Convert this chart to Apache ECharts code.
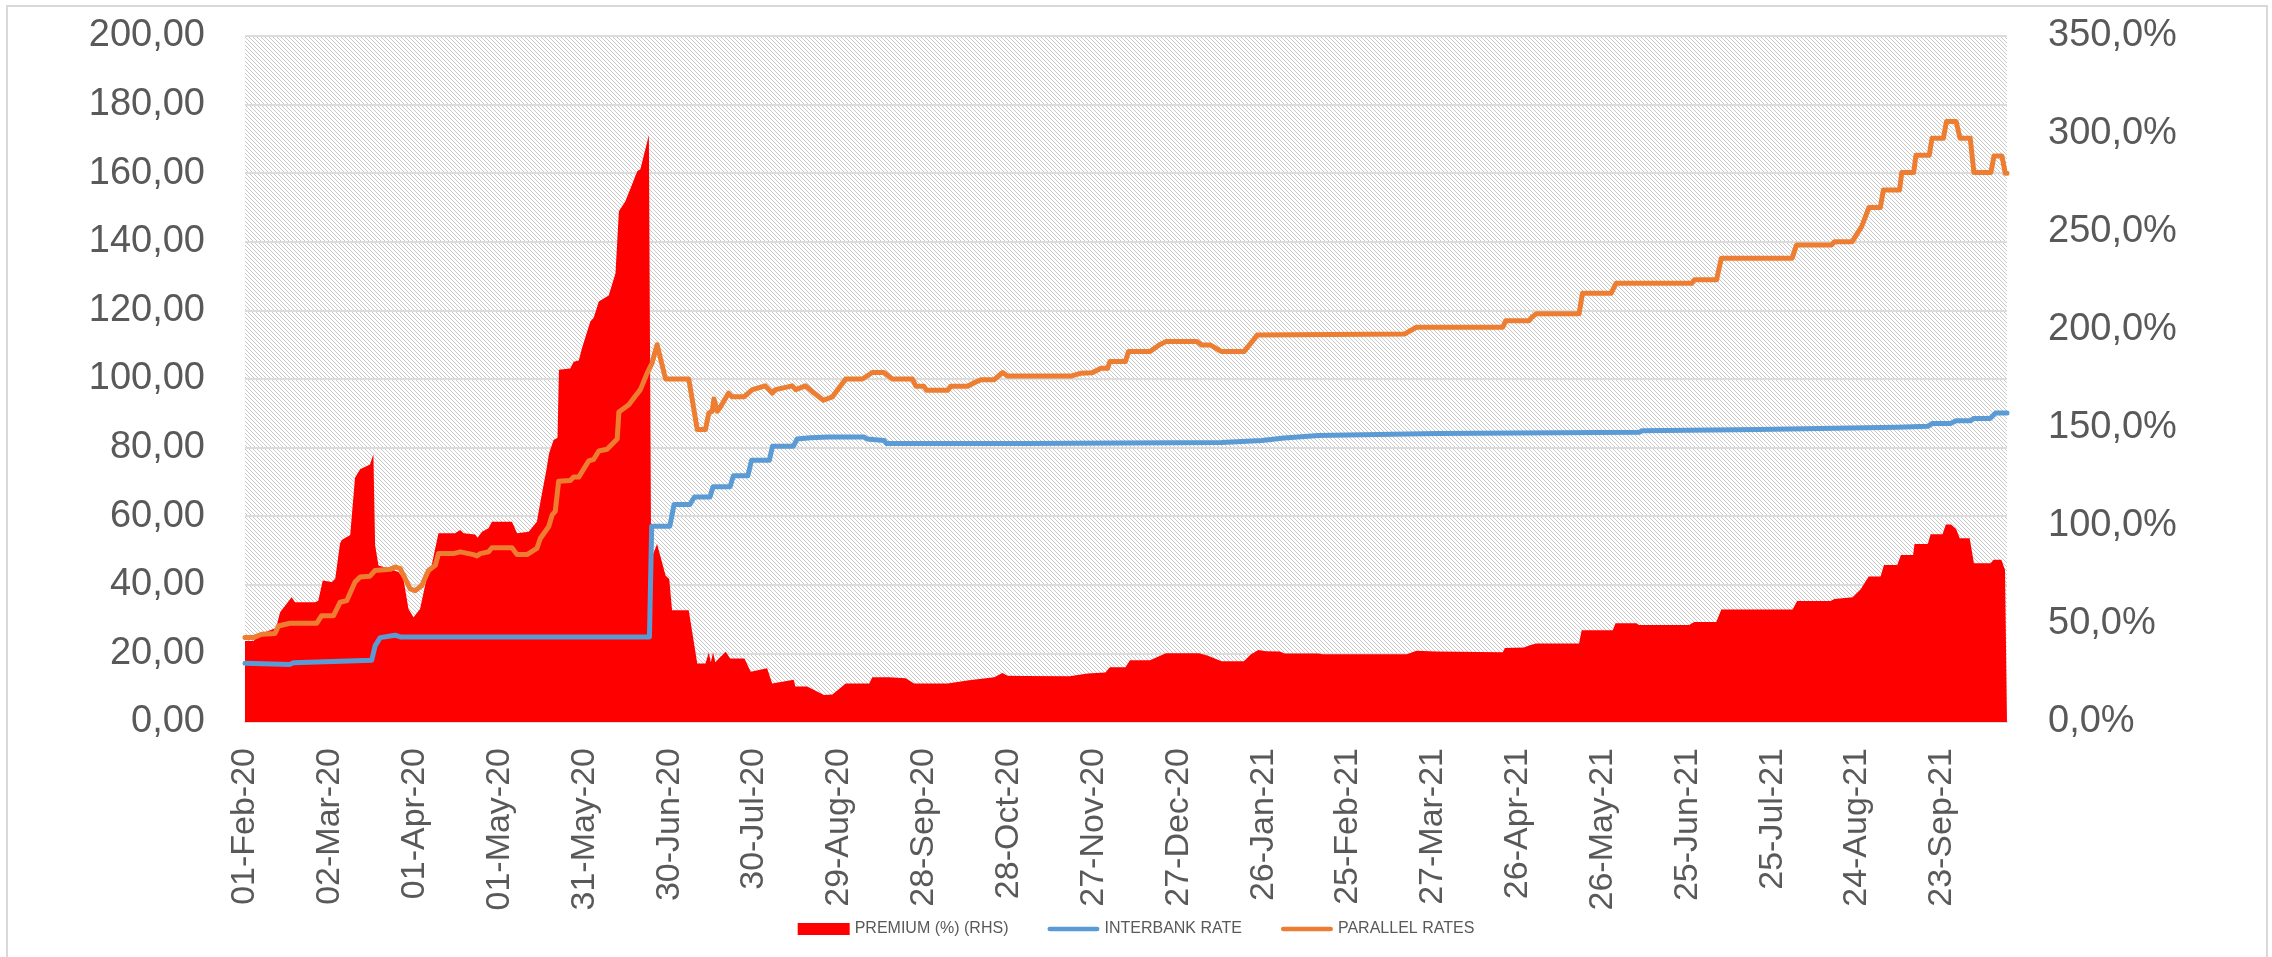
<!DOCTYPE html>
<html>
<head>
<meta charset="utf-8">
<script src="https://cdn.jsdelivr.net/npm/echarts@6/dist/echarts.min.js"></script>
<style>
  html, body { margin: 0; padding: 0; background: #ffffff; }
  #chart { width: 2272px; height: 957px; }
</style>
</head>
<body>
<div id="chart"></div>
<script>
// x values are days counted from 01-Feb-20 (day 0); a tick label every 30 days
const tickLabels = ['01-Feb-20','02-Mar-20','01-Apr-20','01-May-20','31-May-20','30-Jun-20','30-Jul-20',
  '29-Aug-20','28-Sep-20','28-Oct-20','27-Nov-20','27-Dec-20','26-Jan-21','25-Feb-21','27-Mar-21',
  '26-Apr-21','26-May-21','25-Jun-21','25-Jul-21','24-Aug-21','23-Sep-21'];
const lastDay = 623;

const seriesNames = ['PREMIUM (%) (RHS)', 'INTERBANK RATE', 'PARALLEL RATES'];

// PREMIUM (%) (RHS) : [day, percent]
const premium = [[0,41.3],[3,41.3],[5.3,44.8],[10,47.4],[11,47.9],[12.4,56],[16.5,63.7],[17.7,61.1],[24.8,61.1],
  [25.9,61.9],[27.5,72.2],[30.7,71.4],[31.9,73.1],[33.6,91.1],[34.2,92.8],[37.2,95.4],[38.9,124.6],[40.7,128.9],
  [44.2,131.4],[45.4,136.6],[46,90.3],[47.2,79.9],[50.2,78.6],[54.3,76.5],[56,73.1],[57.8,57.6],[59.6,53.4],
  [61.9,57.6],[64.3,73.9],[66,79.9],[68.4,96.3],[74.3,96.3],[76.1,98],[77.3,96.3],[81.4,95.7],[82.2,94],
  [83.8,97.1],[86.1,98.8],[87.3,102.2],[94.4,102.2],[96.2,96.3],[100.3,97.1],[103.2,102.2],[104.4,112],
  [106.5,128],[107.5,137],[109.1,143.9],[110.5,145],[111,179.7],[115,180.3],[116.2,183.8],[118,184.4],
  [119.2,191],[122.1,204.3],[123.3,206.3],[125.1,214.5],[128.6,217.6],[131,228.9],[132.2,260.6],[134.5,265.7],
  [138.7,281],[139.8,282],[142.8,299.5],[143.3,299.5],[143.6,83],[145.7,90.8],[148.7,74.7],[150,73],[151,57],
  [156.9,57],[159.9,29.9],[162.8,29.9],[164,35.5],[164.7,30.5],[165.5,35.5],[166.3,30.5],[168,33],[170,35.8],
  [171.5,32.4],[176.6,32.4],[178.8,25.7],[184.6,27.4],[186.4,19.7],[194,21.5],[194.6,18.1],[198.8,18.1],
  [204.7,13.8],[207.7,14],[212.4,19.7],[220.7,19.7],[221.8,22.8],[227.7,22.8],[233.6,22.3],[236.6,19.7],
  [248.4,19.7],[256,21.3],[264.9,22.8],[267.8,25],[269.6,23.6],[275.5,23.5],[291.6,23.4],[297.9,24.8],
  [304.2,25.2],[305.8,27.9],[311.3,27.9],[312.9,31.5],[320,31.5],[325.6,35.1],[337.4,35.1],[340.5,33.8],
  [345.3,31],[353.2,31],[355.6,34.5],[358.3,36.7],[361,36.1],[365.9,36],[367.6,35],[379.5,35],[381,34.6],
  [410.8,34.6],[414.2,36.4],[421,36],[444.7,35.6],[445.5,37.8],[452.2,38],[454,39],[456.5,40],[471.7,40],
  [472.6,46.8],[483.6,46.8],[484.6,50.4],[492,50.4],[492.9,49.5],[510.6,49.5],[512.4,51],[520.2,51],[522,57.4],
  [547.2,57.4],[548.8,61.7],[560.6,61.7],[562,62.8],[568.4,63.6],[571.2,67.6],[574.1,74.2],[578.3,74.2],
  [579.5,80.1],[584.2,80.1],[585.5,85.2],[589.8,85.2],[590.3,90.8],[595,90.8],[596,95.8],[600.2,95.8],
  [601.4,100.8],[603.2,100.8],[605,98.5],[606.3,93.7],[609.8,93.7],[611.3,81],[617.2,81],[618.3,82.8],
  [621,82.8],[622.3,77.5],[623,77.5]];

// INTERBANK RATE : [day, rate]
const interbank = [[0,17.1],[15.9,16.8],[17.1,17.3],[44.8,18],[46,22.2],[47.8,24.6],[53.1,25.3],[54.9,24.8],
  [143,24.8],[143.8,57.1],[150.2,57.1],[151.7,63.4],[157.3,63.4],[158.9,65.6],[164.4,65.6],[165.5,68.6],
  [171.5,68.6],[172.7,71.8],[177.8,71.8],[179.1,76.3],[185.4,76.3],[186.5,80.4],[193.9,80.4],[195.2,82.5],
  [199.9,82.9],[206.2,83.1],[218.9,83.1],[220,82.5],[226,82.1],[226.8,81.2],[275.8,81.2],[345.3,81.5],
  [359.5,82.1],[367.4,82.8],[379.5,83.5],[421.5,84.1],[493,84.5],[494,84.9],[535,85.3],[584,85.9],[595,86.2],
  [596.5,87],[603,87],[605,87.8],[610,87.8],[611.3,88.5],[617,88.5],[619,90.1],[623,90.1]];

// PARALLEL RATES : [day, rate]
const parallel = [[0,24.6],[3,24.6],[5.9,25.6],[10.6,25.8],[11.8,28],[15.9,28.8],[25.4,28.8],[27.1,31],
  [31.3,31],[33.6,34.9],[36,35.4],[38.9,40.8],[40.7,42.3],[44.2,42.5],[46,44.2],[51.3,44.5],[53.1,45.2],
  [54.9,44.7],[58.4,38.8],[60.2,38.3],[62.5,39.8],[64.9,44.2],[67.3,45.7],[68.4,49.1],[73.7,49.1],[76.1,49.6],
  [80.8,48.8],[82,48.4],[83.2,49.1],[86.1,49.6],[87.3,50.8],[94.4,50.8],[96.2,48.8],[99.7,48.8],[103.2,50.6],
  [104.4,53.5],[107.4,57],[108.6,60.4],[109.7,61.4],[110.9,70.2],[115,70.4],[116.2,71.4],[118,71.4],
  [121.5,76.1],[123.3,76.6],[125.1,79],[128,79.5],[131.6,82.5],[132.2,90.4],[135.7,92.5],[138.1,95.1],
  [139.8,96.9],[142.2,101.7],[143.9,104.6],[145.7,110],[148.7,100],[156.9,100],[159.9,85.3],[162.8,85.3],
  [164,90.1],[165.2,90.6],[165.8,94.2],[167,90.6],[168.2,92],[171,95.9],[172.2,94.8],[176.4,94.8],
  [179.4,96.9],[184,98],[186.4,95.9],[187.6,96.9],[193.5,98],[194.7,96.9],[198.2,98],[201.2,95.9],
  [204.5,93.8],[207.7,94.8],[212.4,100],[218.3,100],[221.8,101.9],[225.9,101.9],[228.9,100],[236,100],
  [237.2,97.9],[240,97.9],[241,96.7],[248.4,96.7],[249.6,97.9],[255.5,97.9],[258,99],[260.2,99.8],
  [264.9,99.8],[267.9,101.9],[269.6,100.9],[292.4,100.9],[295.6,101.7],[299.5,101.8],[302.7,103.1],
  [305,103.1],[305.8,105.1],[311.3,105.1],[312.4,108],[320,108],[323.2,109.9],[325.6,110.9],[336.6,110.9],
  [338.2,109.9],[341.4,109.9],[345.3,108],[353.2,108],[355.6,110.4],[357.9,112.8],[409.9,113.1],
  [414.2,115.1],[444.7,115.1],[445.8,117],[454,117],[455,118],[456.5,119],[471.7,119],[472.9,125],[483,125],
  [484.8,127.9],[511.5,127.9],[512.5,128.9],[520.3,128.9],[522,135.2],[547,135.2],[548.6,139.1],[561,139.1],
  [562,140],[568.2,140],[571.6,144.4],[574.2,150],[578.2,150],[579.3,155.1],[585,155.1],[585.8,160.2],
  [590,160.2],[590.8,165.2],[595.5,165.2],[596.5,170.2],[600.5,170.2],[601.6,175.1],[605,175.1],
  [606.4,170.2],[610,170.2],[611.3,160.2],[617.3,160.2],[618.4,165],[621.2,165],[622.4,160],[623,160]];

// hatched plot background tile
function hatchTile() {
  const c = document.createElement('canvas');
  c.width = 8; c.height = 8;
  const ctx = c.getContext('2d');
  ctx.fillStyle = '#ffffff';
  ctx.fillRect(0, 0, 8, 8);
  ctx.fillStyle = '#c8c8c8';
  for (let y = 0; y < 8; y++) {
    for (let x = 0; x < 8; x++) {
      if (((x - y) % 4 + 4) % 4 === 0) ctx.fillRect(x, y, 1, 1);
    }
  }
  return c;
}

const FONT = "'Liberation Sans', Arial, sans-serif";
const GREY = '#595959';
const linePath = 'path://M2.5,0 L52.5,0 A2.5,2.5 0 0 1 52.5,5 L2.5,5 A2.5,2.5 0 0 1 2.5,0 Z';

const chart = echarts.init(document.getElementById('chart'), null, { renderer: 'canvas' });
chart.setOption({
  animation: false,
  backgroundColor: '#ffffff',
  textStyle: { fontFamily: FONT },
  graphic: [{
    type: 'rect', silent: true, z: -10,
    shape: { x: 7, y: 6, width: 2260, height: 962 },
    style: { fill: 'none', stroke: '#d9d9d9', lineWidth: 2 }
  }],
  grid: {
    left: 245, right: 265, top: 36, bottom: 235,
    show: true, borderWidth: 0,
    backgroundColor: { image: hatchTile(), repeat: 'repeat' },
    outerBoundsMode: 'none'
  },
  legend: {
    data: [
      { name: seriesNames[0], icon: 'rect' },
      { name: seriesNames[1], icon: linePath },
      { name: seriesNames[2], icon: linePath }
    ],
    left: 'center', top: 916,
    itemWidth: 52, itemHeight: 12, itemGap: 39,
    itemStyle: { borderWidth: 0 },
    textStyle: { fontSize: 16, color: GREY, fontFamily: FONT }
  },
  xAxis: {
    type: 'value', min: 0, max: lastDay, interval: 30,
    axisLine: { show: true, lineStyle: { color: '#d9d9d9', width: 2 } },
    axisTick: { show: false },
    splitLine: { show: false },
    axisLabel: {
      rotate: 90, margin: 26, fontSize: 34, color: GREY, fontFamily: FONT,
      showMaxLabel: false,
      formatter: v => (v % 30 === 0 && tickLabels[v / 30] !== undefined) ? tickLabels[v / 30] : ''
    }
  },
  yAxis: [{
    type: 'value', min: 0, max: 200, interval: 20, position: 'left',
    axisLine: { show: false }, axisTick: { show: false },
    splitLine: { show: true, lineStyle: { color: '#dcdcdc', width: 2 } },
    axisLabel: { margin: 40, fontSize: 38, color: GREY, fontFamily: FONT,
      formatter: v => v.toFixed(2).replace('.', ',') }
  }, {
    type: 'value', min: 0, max: 350, interval: 50, position: 'right',
    axisLine: { show: false }, axisTick: { show: false },
    splitLine: { show: false },
    axisLabel: { margin: 41, fontSize: 38, color: GREY, fontFamily: FONT,
      formatter: v => v.toFixed(1).replace('.', ',') + '%' }
  }],
  series: [{
    name: seriesNames[0], type: 'line', yAxisIndex: 1, data: premium,
    symbol: 'none', z: 1,
    lineStyle: { width: 0, color: '#FF0000' },
    itemStyle: { color: '#FF0000' },
    areaStyle: { color: '#FF0000', opacity: 1 }
  }, {
    name: seriesNames[1], type: 'line', yAxisIndex: 0, data: interbank,
    symbol: 'none', z: 3,
    lineStyle: { width: 5, color: '#5B9BD5', join: 'round', cap: 'round' },
    itemStyle: { color: '#5B9BD5' }
  }, {
    name: seriesNames[2], type: 'line', yAxisIndex: 0, data: parallel,
    symbol: 'none', z: 4,
    lineStyle: { width: 5, color: '#ED7D31', join: 'round', cap: 'round' },
    itemStyle: { color: '#ED7D31' }
  }]
});
</script>
</body>
</html>
